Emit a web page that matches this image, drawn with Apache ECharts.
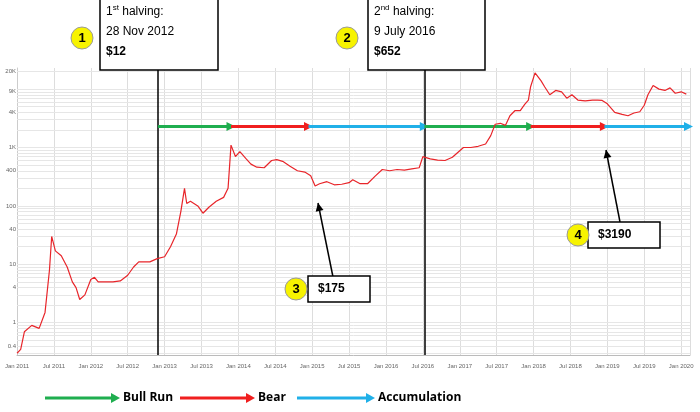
<!DOCTYPE html><html><head><meta charset="utf-8">
<script src="https://cdn.jsdelivr.net/npm/echarts@6/dist/echarts.min.js"></script>
<style>html,body{margin:0;background:#fff}#c{width:700px;height:412px}</style></head><body><div id="c"></div>
<script>
const years=[2011,2011.05,2011.1,2011.2,2011.3,2011.38,2011.44,2011.47,2011.52,2011.6,2011.68,2011.75,2011.8,2011.85,2011.92,2012.0,2012.05,2012.1,2012.2,2012.3,2012.4,2012.5,2012.58,2012.65,2012.72,2012.8,2012.9,2013.0,2013.08,2013.16,2013.22,2013.27,2013.3,2013.35,2013.45,2013.52,2013.6,2013.7,2013.8,2013.86,2013.9,2013.96,2014.02,2014.1,2014.17,2014.25,2014.35,2014.45,2014.52,2014.6,2014.7,2014.8,2014.9,2014.98,2015.04,2015.1,2015.2,2015.3,2015.4,2015.5,2015.55,2015.65,2015.75,2015.85,2015.95,2016.05,2016.15,2016.25,2016.35,2016.45,2016.5,2016.6,2016.7,2016.8,2016.9,2017.0,2017.05,2017.15,2017.25,2017.35,2017.42,2017.48,2017.55,2017.62,2017.68,2017.75,2017.82,2017.88,2017.93,2017.96,2018.02,2018.1,2018.15,2018.22,2018.3,2018.38,2018.45,2018.52,2018.6,2018.7,2018.8,2018.87,2018.93,2019.0,2019.1,2019.2,2019.28,2019.36,2019.44,2019.5,2019.55,2019.62,2019.7,2019.78,2019.85,2019.92,2020.0,2020.07];
const prices=[0.3,0.35,0.7,0.9,0.8,1.5,8,30,17,14,9,5,4,2.5,3,5.5,6,5,5,5,5.2,6.5,9,11,11,11,12.5,13.5,20,33,80,200,110,120,100,75,95,120,140,200,1100,700,850,650,520,460,450,600,620,580,480,400,380,330,220,240,260,230,235,250,280,240,240,320,420,400,420,410,430,450,700,640,610,600,680,880,1000,1000,1050,1150,1600,2500,2600,2400,3500,4300,4300,5500,6500,11000,19000,14000,11000,8000,9500,9000,7000,8000,6500,6300,6500,6500,6400,5600,4000,3700,3500,3900,4100,5300,8000,11500,10000,9500,10500,8500,9000,8200,7200,7300,8500];
const yTicks=[0.4,1,4,10,40,100,400,1000,4000,9000,20000];
const yTickLabels=['0.4','1','4','10','40','100','400','1K','4K','9K','20K'];
const mon=['Jan','Jul'];
const halvings=[2012.91,2016.52];
const phases=[[2012.91,2013.9,'#1fae4f'],[2013.9,2014.95,'#f01f1f'],[2014.95,2016.52,'#20b0e8'],[2016.52,2017.96,'#1fae4f'],[2017.96,2018.96,'#f01f1f'],[2018.96,2020.1,'#20b0e8']];
const phaseY=2300;
const grids=[];for(let k=-1;k<=4;k++)for(let m=1;m<=9;m++){const v=m*Math.pow(10,k);if(v>=0.3&&v<=22000)grids.push(v);}
const chart=echarts.init(document.getElementById('c'));
const data=years.map((y,i)=>[y,prices[i]]);
chart.setOption({animation:false,
grid:{left:17,right:10,top:68,bottom:57},
xAxis:{type:'value',min:2011,max:2020.12,interval:0.5,axisLine:{lineStyle:{color:'#bbb'}},axisTick:{show:false},
 splitLine:{lineStyle:{color:'#ddd'}},
 axisLabel:{fontSize:6,color:'#666',margin:8,formatter:v=>{const y=Math.floor(v+1e-6);return mon[Math.round((v-y)*2)]+' '+y;}}},
yAxis:{type:'log',min:0.28,max:23000,axisLabel:{show:false},axisTick:{show:false},splitLine:{show:false},axisLine:{show:true,lineStyle:{color:'#ccc'}}},
series:[{type:'line',data:data,showSymbol:false,z:5,lineStyle:{color:'#e8252a',width:1.2,type:'solid'},
 markLine:{silent:true,symbol:'none',z:1,data:[
  ...grids.map(v=>({yAxis:v,lineStyle:{color:'#e6e6e6',width:1,type:'solid'},label:{show:false}})),
  ...yTicks.map((v,i)=>({yAxis:v,lineStyle:{color:'#e6e6e6',width:1,type:'solid'},label:{show:true,position:'start',formatter:yTickLabels[i],fontSize:6,color:'#666',distance:1}})),
  ...halvings.map(h=>({xAxis:h,lineStyle:{color:'#000',width:1.5,type:'solid'},label:{show:false}}))
 ]}},
 {type:'line',data:[],markLine:{silent:true,symbol:['none','triangle'],symbolSize:[9,9],data:phases.map(p=>[{coord:[p[0],phaseY],lineStyle:{color:p[2],width:3,type:'solid'},label:{show:false}},{coord:[p[1],phaseY]}])}}
]});
function px(x,y){return chart.convertToPixel({gridIndex:0},[x,y]);}
const g=[];
function box(x,y,w,h,lines){g.push({type:'rect',shape:{x,y,width:w,height:h},style:{fill:'#fff',stroke:'#000',lineWidth:1.5},z:10});
 g.push({type:'text',x:x+6,y:y+4,z:11,style:lines});}
function circ(x,y,t){g.push({type:'circle',shape:{cx:x,cy:y,r:11},style:{fill:'#f7f300',stroke:'#999',lineWidth:1},z:12});
 g.push({type:'text',x:x,y:y,z:13,style:{text:t,fontSize:13,fontWeight:'bold',fill:'#000',align:'center',verticalAlign:'middle',fontFamily:'Liberation Sans'}});}
const h1=px(halvings[0],1)[0],h2=px(halvings[1],1)[0];
g.push({type:'line',shape:{x1:h1,y1:0,x2:h1,y2:70},style:{stroke:'#000',lineWidth:1.5},z:9});
g.push({type:'line',shape:{x1:h2,y1:0,x2:h2,y2:70},style:{stroke:'#000',lineWidth:1.5},z:9});
const rich={a:{fontSize:12,fontFamily:'Liberation Sans',lineHeight:20,fill:'#000'},s:{fontSize:8,fontFamily:'Liberation Sans',padding:[0,0,8,0],fill:'#000'},b:{fontSize:12,fontWeight:'bold',fontFamily:'Liberation Sans',lineHeight:20,fill:'#000'}};
box(100,-2,118,72,{text:'{a|1}{s|st}{a| halving:}\n{a|28 Nov 2012}\n{b|$12}',rich});
box(368,-2,117,72,{text:'{a|2}{s|nd}{a| halving:}\n{a|9 July 2016}\n{b|$652}',rich});
circ(82,38,'1');circ(347,38,'2');
function arrow(x1,y1,x2,y2){g.push({type:'line',shape:{x1,y1,x2,y2},style:{stroke:'#000',lineWidth:1.5},z:9});
 const a=Math.atan2(y2-y1,x2-x1),L=8,W=4;
 g.push({type:'polygon',shape:{points:[[x2,y2],[x2-L*Math.cos(a)+W*Math.sin(a),y2-L*Math.sin(a)-W*Math.cos(a)],[x2-L*Math.cos(a)-W*Math.sin(a),y2-L*Math.sin(a)+W*Math.cos(a)]]},style:{fill:'#000'},z:9});}
arrow(333,277,318,203);arrow(620,222,606,150);
box(308,276,62,26,{text:'$175',fontSize:12,fontWeight:'bold',fontFamily:'Liberation Sans',fill:'#000',padding:[3,0,0,4]});
box(588,222,72,26,{text:'$3190',fontSize:12,fontWeight:'bold',fontFamily:'Liberation Sans',fill:'#000',padding:[3,0,0,4]});
circ(296,289,'3');circ(578,235,'4');
function leg(x1,x2,c,t){g.push({type:'line',shape:{x1,y1:398,x2:x2-8,y2:398},style:{stroke:c,lineWidth:3}});
 g.push({type:'polygon',shape:{points:[[x2,398],[x2-9,393],[x2-9,403]]},style:{fill:c}});
 g.push({type:'text',x:x2+3,y:398,style:{text:t,fontSize:12,fontWeight:'bold',fontFamily:'Open Sans',fill:'#000',verticalAlign:'middle'}});}
leg(45,120,'#1fae4f','Bull Run');leg(180,255,'#f01f1f','Bear');leg(297,375,'#20b0e8','Accumulation');
chart.setOption({graphic:g});
</script></body></html>
